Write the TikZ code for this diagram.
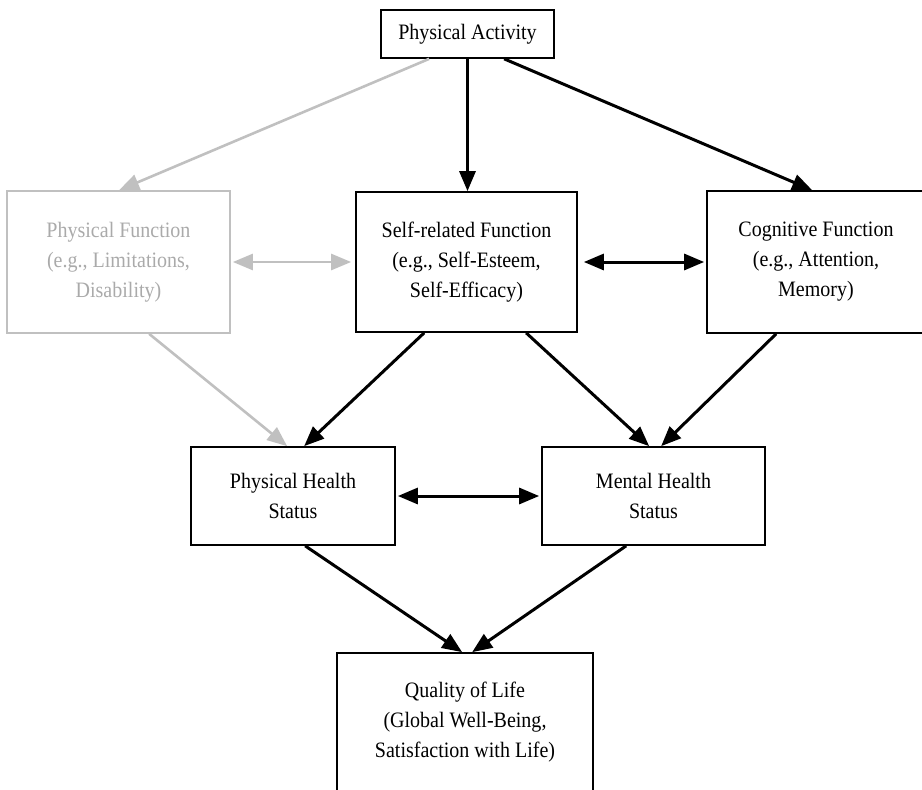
\documentclass[tikz,border=0pt]{standalone}
\usepackage{fontspec}
\setmainfont{Liberation Serif}[FakeStretch=0.91]
\usetikzlibrary{arrows.meta,calc}
\definecolor{lightgr}{RGB}{192,192,192}
\definecolor{textgr}{RGB}{170,170,170}
\begin{document}
\begin{tikzpicture}[x=1pt,y=-1pt,
  box/.style={draw=black,line width=1.7pt,inner sep=0pt,align=center,
    font=\fontsize{22}{30}\selectfont},
  graybox/.style={box,draw=lightgr,text=textgr},
  arr/.style={line width=3pt,-{Triangle[length=20pt,width=16pt]}},
  darr/.style={line width=3pt,{Triangle[length=20pt,width=16pt]}-{Triangle[length=20pt,width=16pt]}},
  garr/.style={arr,draw=lightgr,line width=2.6pt},
  gdarr/.style={darr,draw=lightgr,line width=2.6pt}]
\useasboundingbox (0,0) rectangle (922,790);
\begin{scope}
\clip (0,0) rectangle (922,790);
\node[box,minimum width=173pt,minimum height=48pt] (pa) at (467.5,34) {Physical Activity};
\node[graybox,minimum width=223pt,minimum height=142pt] (pf) at (118.5,262) {Physical Function\\(e.g., Limitations,\\Disability)};
\node[box,minimum width=221pt,minimum height=140pt] (sr) at (466.5,262) {Self-related Function\\(e.g., Self-Esteem,\\Self-Efficacy)};
\node[box,minimum width=218pt,minimum height=142pt] (cf) at (816,262) {Cognitive Function\\(e.g., Attention,\\Memory)};
\node[box,minimum width=204pt,minimum height=98pt] (ph) at (293,496) {Physical Health\\Status};
\node[box,minimum width=223pt,minimum height=98pt] (mh) at (653.5,496) {Mental Health\\Status};
\node[box,minimum width=256pt,minimum height=138pt] (qol) at (465,722) {Quality of Life\\(Global Well-Being,\\Satisfaction with Life)};
\end{scope}
% connectors
\draw[garr] ($(pa.south west)+(49,0)$) -- ($(pf.north west)+(113,0)$);
\draw[arr] (pa.south) -- (pa.south |- sr.north);
\draw[arr] ($(pa.south west)+(124,0)$) -- ($(cf.north west)+(106,0)$);
\draw[gdarr,shorten <=2pt,shorten >=4pt] (pf.east) -- (sr.west);
\draw[darr,shorten <=6pt,shorten >=2pt] (sr.east) -- (cf.west);
\draw[garr] ($(pf.south west)+(143,0)$) -- ($(ph.north west)+(97,0)$);
\draw[arr] ($(sr.south west)+(69,0)$) -- ($(ph.north west)+(114,0)$);
\draw[arr] ($(sr.south west)+(171,0)$) -- ($(mh.north west)+(108,0)$);
\draw[arr] ($(cf.south west)+(70,0)$) -- ($(mh.north west)+(120,0)$);
\draw[darr,shorten <=2pt,shorten >=2pt] (ph.east) -- (mh.west);
\draw[arr] ($(ph.south west)+(115,0)$) -- ($(qol.north west)+(126,0)$);
\draw[arr] ($(mh.south west)+(85,0)$) -- ($(qol.north west)+(136,0)$);
\end{tikzpicture}
\end{document}
